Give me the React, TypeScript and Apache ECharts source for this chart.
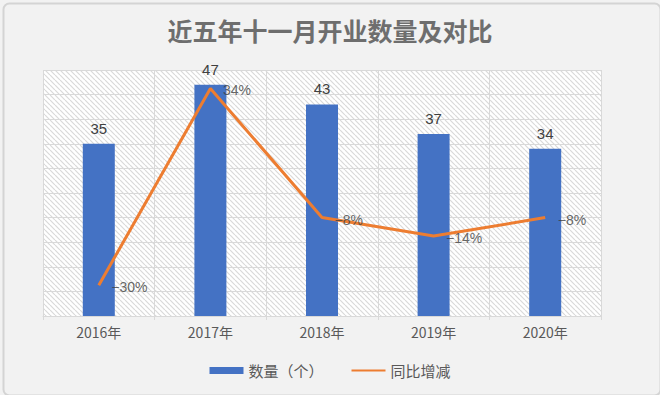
import React, { useEffect, useRef } from "react";
import * as echarts from "echarts";

const categories = ["2016年", "2017年", "2018年", "2019年", "2020年"];
const counts = [35, 47, 43, 37, 34];
const yoy = [-30, 34, -8, -14, -8];
const titleText = "近五年十一月开业数量及对比";
const barName = "数量（个）";
const lineName = "同比增减";

function makeHatch(): HTMLCanvasElement {
  const c = document.createElement("canvas");
  const s = 5;
  c.width = s;
  c.height = s;
  const ctx = c.getContext("2d")!;
  ctx.fillStyle = "#ffffff";
  ctx.fillRect(0, 0, s, s);
  ctx.strokeStyle = "#d9d9d9";
  ctx.lineWidth = 1.2;
  ctx.beginPath();
  for (let k = -1; k <= 1; k++) {
    ctx.moveTo(k * s, 0);
    ctx.lineTo(k * s + s, s);
  }
  ctx.stroke();
  return c;
}

const pctFmt = (p: any) =>
  (p.value < 0 ? "\u2212" + Math.abs(p.value) : String(p.value)) + "%";

export default function App() {
  const ref = useRef<HTMLDivElement>(null);
  useEffect(() => {
    if (!ref.current) return;
    const chart = echarts.init(ref.current, undefined, { renderer: "svg" });
    const hatch = makeHatch();
    chart.setOption({
      animation: false,
      backgroundColor: "#f2f2f2",
      title: {
        text: titleText,
        left: "center",
        top: 12,
        textStyle: {
          fontFamily: "Noto Sans CJK SC",
          fontSize: 25,
          fontWeight: "bold",
          color: "#6e6e6e",
        },
      },
      graphic: [
        {
          type: "rect",
          left: 1,
          top: 1,
          shape: { width: 657, height: 392, r: 6 },
          style: { fill: "none", stroke: "#d4d4d4", lineWidth: 2 },
          silent: true,
          z: 100,
        },
      ],
      legend: {
        bottom: 12,
        left: "center",
        itemWidth: 34,
        itemHeight: 7,
        itemGap: 27,
        textStyle: {
          fontFamily: "Noto Sans CJK SC",
          fontSize: 15,
          color: "#595959",
        },
        data: [
          { name: barName, icon: "rect" },
          {
            name: lineName,
            itemStyle: { color: "rgba(0,0,0,0)", borderWidth: 0, opacity: 0 },
          },
        ],
      },
      grid: {
        left: 43,
        right: 59,
        top: 70,
        bottom: 79,
        show: true,
        backgroundColor: { image: hatch, repeat: "repeat" },
        borderWidth: 0,
      },
      xAxis: {
        type: "category",
        data: categories,
        boundaryGap: true,
        axisLine: { show: true, lineStyle: { color: "#d9d9d9", width: 1 } },
        axisTick: { show: true, length: 4, lineStyle: { color: "#d9d9d9" } },
        splitLine: { show: true, lineStyle: { color: "#d9d9d9", width: 1 } },
        axisLabel: {
          fontFamily: "Noto Sans CJK SC",
          fontSize: 14,
          color: "#595959",
          margin: 9,
        },
      },
      yAxis: [
        {
          type: "value",
          min: 0,
          max: 50,
          interval: 5,
          axisLabel: { show: false },
          axisLine: { show: false },
          axisTick: { show: false },
          splitLine: { show: true, lineStyle: { color: "#d9d9d9", width: 1 } },
        },
        {
          type: "value",
          min: -40,
          max: 40,
          interval: 10,
          axisLabel: { show: false },
          axisLine: { show: false },
          axisTick: { show: false },
          splitLine: { show: false },
        },
      ],
      series: [
        {
          name: barName,
          type: "bar",
          data: counts,
          barWidth: 32,
          itemStyle: { color: "#4472c4" },
          label: {
            show: true,
            position: "top",
            distance: 8,
            fontFamily: "Liberation Sans",
            fontSize: 15,
            color: "#404040",
          },
        },
        {
          name: lineName,
          type: "line",
          yAxisIndex: 1,
          data: yoy,
          symbol: "none",
          lineStyle: { color: "#ed7d31", width: 3 },
          itemStyle: { color: "#ed7d31" },
        },
        {
          name: "labels",
          type: "scatter",
          yAxisIndex: 1,
          data: yoy,
          symbol: "circle",
          symbolSize: 1,
          itemStyle: { color: "rgba(0,0,0,0)" },
          silent: true,
          z: 5,
          label: {
            show: true,
            position: "right",
            distance: 12,
            offset: [0, 2],
            fontFamily: "Liberation Sans",
            fontSize: 14,
            color: "#404040",
            formatter: pctFmt,
          },
        },
      ],
    });
    return () => chart.dispose();
  }, []);
  return (
    <div
      ref={ref}
      style={{ position: "fixed", left: 0, top: 0, width: 660, height: 395 }}
    />
  );
}
